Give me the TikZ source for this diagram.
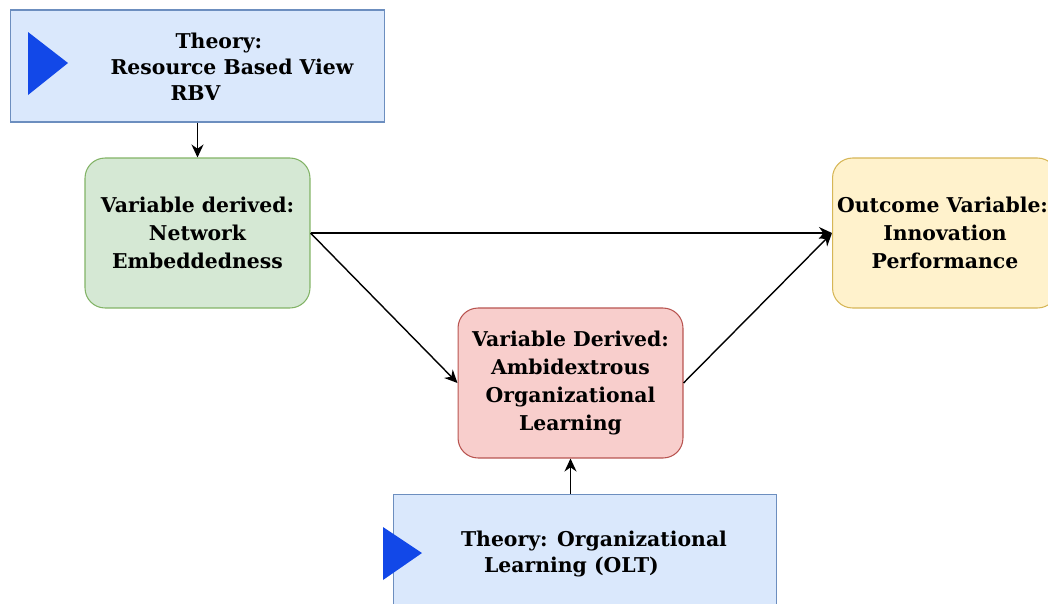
\documentclass[tikz,border=0pt]{standalone}
\usepackage{fontspec}
\setmainfont{DejaVu Serif}
\usetikzlibrary{arrows.meta,positioning}

\definecolor{thfill}{HTML}{DAE8FC}
\definecolor{thdraw}{HTML}{6C8EBF}
\definecolor{grfill}{HTML}{D5E8D4}
\definecolor{grdraw}{HTML}{82B366}
\definecolor{rdfill}{HTML}{F8CECC}
\definecolor{rddraw}{HTML}{B85450}
\definecolor{ylfill}{HTML}{FFF2CC}
\definecolor{yldraw}{HTML}{D6B656}
\definecolor{triblue}{HTML}{1248E8}

\tikzset{
  theorybox/.style={draw=thdraw,fill=thfill,line width=0.6pt,inner sep=0pt},
  varbox/.style={rounded corners=0.4cm,line width=0.6pt,inner sep=0pt,
    minimum width=4.5cm,minimum height=3cm,align=center,
    font=\fontsize{11.6}{15.8}\selectfont\bfseries},
  thtext/.style={align=left,inner sep=0pt,font=\fontsize{11.6}{14.8}\selectfont\bfseries},
  arr/.style={-{Stealth[length=0.26cm,width=0.24cm]},line width=0.8pt},
  tri/.style={fill=triblue}
}

\begin{document}
\begin{tikzpicture}[x=0.02cm,y=-0.02cm]
\useasboundingbox (0,0) rectangle (1048,603);
\clip (0,0) rectangle (1048,603);

% theory boxes
\node[theorybox,minimum width=7.5cm,minimum height=2.24cm] (theoryrbv) at (197.5,66) {};
\fill[tri] (28,32) -- (68,63) -- (28,95) -- cycle;
\node[thtext] (rbvtext) at (232,67) {\hspace*{1.3cm}Theory:\\Resource Based View\\\hspace*{1.2cm}RBV};

\node[theorybox,minimum width=7.68cm,minimum height=2.3cm] (theoryolt) at (585,552) {};
\fill[tri] (383,527) -- (422,553) -- (383,580) -- cycle;
\node[thtext] (olttext) at (594,554) {Theory: Organizational\\\hspace*{0.46cm}Learning (OLT)};

% variables
\node[varbox,draw=grdraw,fill=grfill] (netemb) at (197.5,233) {Variable derived:\\Network\\Embeddedness};
\node[varbox,draw=rddraw,fill=rdfill] (ambi) at (570.5,383) {Variable Derived:\\Ambidextrous\\Organizational\\Learning};
\node[varbox,draw=yldraw,fill=ylfill] (outcome) at (945,233) {\hspace*{-0.1cm}Outcome Variable:\\Innovation\\Performance};

% links
\draw[arr] (theoryrbv.south -| netemb.north) -- (netemb.north);
\draw[arr] (netemb.east) -- (outcome.west);
\draw[arr] (netemb.east) -- (ambi.west);
\draw[arr] (ambi.east) -- (outcome.west);
\draw[arr] (theoryolt.north -| ambi.south) -- (ambi.south);
\end{tikzpicture}
\end{document}
